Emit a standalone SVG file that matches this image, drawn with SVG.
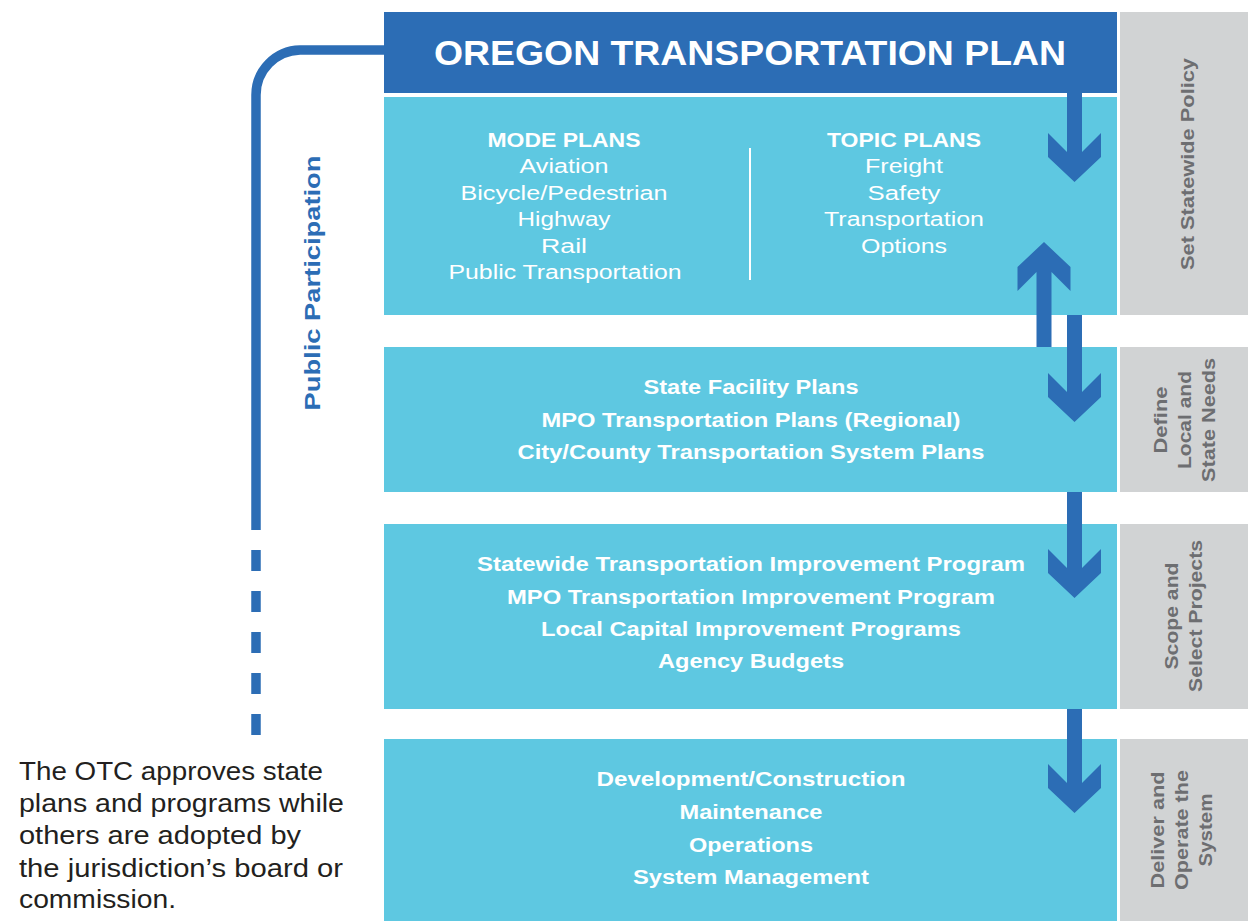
<svg xmlns="http://www.w3.org/2000/svg" width="1248" height="921" viewBox="0 0 1248 921">
<style>
.dark{fill:#2C6DB5}
.light{fill:#5EC8E1}
.gray{fill:#D1D3D4}
.t{font-family:"Liberation Sans","Open Sans",sans-serif;fill:#FFFFFF;text-anchor:middle}
.b{font-weight:bold;font-size:20px}
.r{font-size:20px}
.side{font-family:"Liberation Sans","Open Sans",sans-serif;font-weight:bold;font-size:18px;fill:#6D6E71;text-anchor:middle}
.note{font-family:"Liberation Sans","Open Sans",sans-serif;font-size:25px;fill:#231F20}
.conn{fill:none;stroke:#2C6DB5;stroke-width:9.5}
</style>
<rect width="1248" height="921" fill="#FFFFFF"/>

<g id="stage-labels">
  <rect class="gray" x="1120" y="12" width="128" height="303"/>
  <rect class="gray" x="1120" y="347" width="128" height="145"/>
  <rect class="gray" x="1120" y="524" width="128" height="185"/>
  <rect class="gray" x="1120" y="739" width="128" height="182"/>
  <g transform="translate(1194,164) rotate(-90)">
    <text class="side" x="0" y="0" textLength="212" lengthAdjust="spacingAndGlyphs">Set Statewide Policy</text>
  </g>
  <g transform="translate(1191,420) rotate(-90)">
    <text class="side" x="0" y="-24" textLength="67" lengthAdjust="spacingAndGlyphs">Define</text>
    <text class="side" x="0" y="0" textLength="98" lengthAdjust="spacingAndGlyphs">Local and</text>
    <text class="side" x="0" y="24" textLength="124" lengthAdjust="spacingAndGlyphs">State Needs</text>
  </g>
  <g transform="translate(1190,616) rotate(-90)">
    <text class="side" x="0" y="-12" textLength="107" lengthAdjust="spacingAndGlyphs">Scope and</text>
    <text class="side" x="0" y="12" textLength="152" lengthAdjust="spacingAndGlyphs">Select Projects</text>
  </g>
  <g transform="translate(1188,830) rotate(-90)">
    <text class="side" x="0" y="-24" textLength="117" lengthAdjust="spacingAndGlyphs">Deliver and</text>
    <text class="side" x="0" y="0" textLength="120" lengthAdjust="spacingAndGlyphs">Operate the</text>
    <text class="side" x="0" y="24" textLength="73" lengthAdjust="spacingAndGlyphs">System</text>
  </g>
</g>

<g id="otp">
  <rect class="dark" x="384" y="12" width="733" height="81"/>
  <text class="t" x="750" y="65" font-size="35" font-weight="bold" textLength="632" lengthAdjust="spacingAndGlyphs">OREGON TRANSPORTATION PLAN</text>
</g>

<g id="plans">
  <rect class="light" x="384" y="97" width="733" height="218"/>
  <text class="t b" x="564" y="147" textLength="153" lengthAdjust="spacingAndGlyphs">MODE PLANS</text>
  <text class="t r" x="564" y="173" textLength="89" lengthAdjust="spacingAndGlyphs">Aviation</text>
  <text class="t r" x="564" y="200" textLength="207" lengthAdjust="spacingAndGlyphs">Bicycle/Pedestrian</text>
  <text class="t r" x="564" y="226" textLength="93" lengthAdjust="spacingAndGlyphs">Highway</text>
  <text class="t r" x="564" y="253" textLength="46" lengthAdjust="spacingAndGlyphs">Rail</text>
  <text class="t r" x="565" y="279" textLength="233" lengthAdjust="spacingAndGlyphs">Public Transportation</text>
  <line x1="750" y1="148" x2="750" y2="280" stroke="#FFFFFF" stroke-width="2"/>
  <text class="t b" x="904" y="147" textLength="154" lengthAdjust="spacingAndGlyphs">TOPIC PLANS</text>
  <text class="t r" x="904" y="173" textLength="78" lengthAdjust="spacingAndGlyphs">Freight</text>
  <text class="t r" x="904" y="200" textLength="73" lengthAdjust="spacingAndGlyphs">Safety</text>
  <text class="t r" x="904" y="226" textLength="160" lengthAdjust="spacingAndGlyphs">Transportation</text>
  <text class="t r" x="904" y="253" textLength="86" lengthAdjust="spacingAndGlyphs">Options</text>
</g>

<g id="needs">
  <rect class="light" x="384" y="347" width="733" height="145"/>
  <text class="t b" x="751" y="394" textLength="215" lengthAdjust="spacingAndGlyphs">State Facility Plans</text>
  <text class="t b" x="751" y="427" textLength="419" lengthAdjust="spacingAndGlyphs">MPO Transportation Plans (Regional)</text>
  <text class="t b" x="751" y="459" textLength="467" lengthAdjust="spacingAndGlyphs">City/County Transportation System Plans</text>
</g>

<g id="projects">
  <rect class="light" x="384" y="524" width="733" height="185"/>
  <text class="t b" x="751" y="571" textLength="548" lengthAdjust="spacingAndGlyphs">Statewide Transportation Improvement Program</text>
  <text class="t b" x="751" y="604" textLength="488" lengthAdjust="spacingAndGlyphs">MPO Transportation Improvement Program</text>
  <text class="t b" x="751" y="636" textLength="420" lengthAdjust="spacingAndGlyphs">Local Capital Improvement Programs</text>
  <text class="t b" x="751" y="668" textLength="186" lengthAdjust="spacingAndGlyphs">Agency Budgets</text>
</g>

<g id="deliver">
  <rect class="light" x="384" y="739" width="733" height="182"/>
  <text class="t b" x="751" y="786" textLength="309" lengthAdjust="spacingAndGlyphs">Development/Construction</text>
  <text class="t b" x="751" y="819" textLength="143" lengthAdjust="spacingAndGlyphs">Maintenance</text>
  <text class="t b" x="751" y="852" textLength="124" lengthAdjust="spacingAndGlyphs">Operations</text>
  <text class="t b" x="751" y="884" textLength="236" lengthAdjust="spacingAndGlyphs">System Management</text>
</g>

<g id="connectors">
  <polygon class="dark" points="1067,90 1067,152 1048,133 1048,157 1074.5,182 1101,157 1101,133 1082,152 1082,90"/>
  <polygon class="dark" points="1036.5,347 1036.5,272 1017.5,291 1017.5,267 1044,242 1070.5,267 1070.5,291 1051.5,272 1051.5,347"/>
  <polygon class="dark" points="1067,315 1067,392 1048,373 1048,397 1074.5,422 1101,397 1101,373 1082,392 1082,315"/>
  <polygon class="dark" points="1067,492 1067,568 1048,549 1048,573 1074.5,598 1101,573 1101,549 1082,568 1082,492"/>
  <polygon class="dark" points="1067,709 1067,783 1048,764 1048,788 1074.5,813 1101,788 1101,764 1082,783 1082,709"/>
  <path class="conn" d="M384 50 H300 A45 45 0 0 0 256 95 V530"/>
  <path class="conn" d="M256 550 V735" stroke-dasharray="21 20"/>
</g>

<g id="public-participation">
  <g transform="translate(320,283) rotate(-90)">
    <text x="0" y="0" font-family="Liberation Sans, Open Sans, sans-serif" font-weight="bold" font-size="22" fill="#2C6DB5" text-anchor="middle" textLength="255" lengthAdjust="spacingAndGlyphs">Public Participation</text>
  </g>
</g>

<g id="note">
  <text class="note" x="19" y="780" textLength="304" lengthAdjust="spacingAndGlyphs">The OTC approves state</text>
  <text class="note" x="19" y="812" textLength="325" lengthAdjust="spacingAndGlyphs">plans and programs while</text>
  <text class="note" x="19" y="844" textLength="282" lengthAdjust="spacingAndGlyphs">others are adopted by</text>
  <text class="note" x="19" y="877" textLength="324" lengthAdjust="spacingAndGlyphs">the jurisdiction’s board or</text>
  <text class="note" x="19" y="908" textLength="157" lengthAdjust="spacingAndGlyphs">commission.</text>
</g>
</svg>
